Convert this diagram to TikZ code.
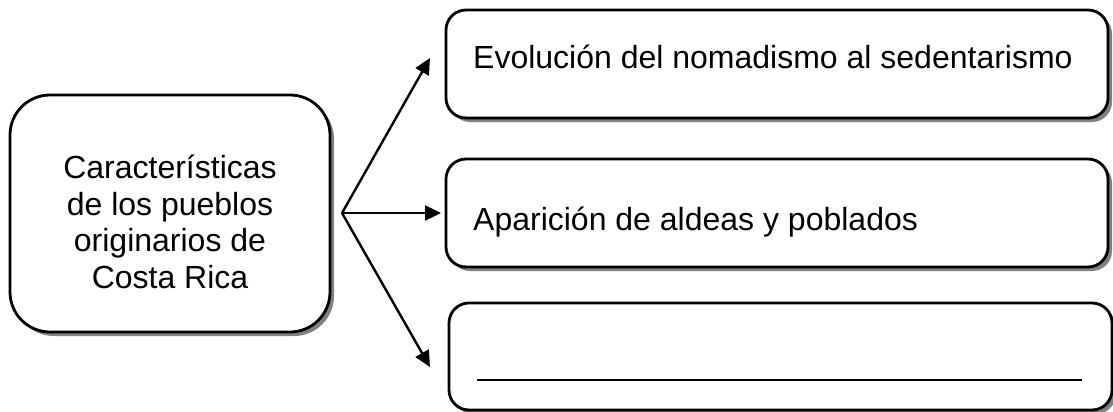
\documentclass[tikz,border=0pt]{standalone}
\usepackage{fontspec}
\setmainfont{Liberation Sans}
\usetikzlibrary{arrows.meta,shadows}
\tikzset{
  boxbase/.style={draw=black, line width=2.8pt, fill=white, inner sep=0pt,
    drop shadow={shadow xshift=4pt, shadow yshift=-4pt, fill=black!50, opacity=1}},
  mainbox/.style={boxbase, rounded corners=40pt},
  sidebox/.style={boxbase, rounded corners=20pt},
  lbl/.style={font=\fontsize{32}{36.7}\selectfont, inner sep=0pt},
  conn/.style={line width=2.4pt, -{Triangle[length=16pt,width=15pt]}},
}
\begin{document}
\begin{tikzpicture}[x=1pt,y=-1pt]
\useasboundingbox (0,0) rectangle (1113,412);
% main box
\node[mainbox, minimum width=320pt, minimum height=237pt] (main) at (170,213.5) {};
\node[lbl, align=center] (maintext) at (170,222) {Características\\de los pueblos\\originarios de\\Costa Rica};
% side boxes
\node[sidebox, minimum width=662pt, minimum height=108pt] (b1) at (777,64) {};
\node[sidebox, minimum width=662pt, minimum height=108pt] (b2) at (777,213) {};
\node[sidebox, minimum width=663pt, minimum height=107pt] (b3) at (780.5,356.5) {};
\node[lbl, anchor=base west] (t1) at (473,68) {Evolución del nomadismo al sedentarismo};
\node[lbl, anchor=base west] (t2) at (473,230) {Aparición de aldeas y poblados};
\coordinate (l1) at (477,380);
\coordinate (l2) at (1082,380);
\draw[line width=1.8pt] (l1) -- (l2);
% connectors
\coordinate (o) at (342,213);
\coordinate (a1) at (430,58);
\coordinate (a2) at (441,213);
\coordinate (a3) at (430,367);
\draw[conn] (o) -- (a1);
\draw[conn] (o) -- (a2);
\draw[conn] (o) -- (a3);
\end{tikzpicture}
\end{document}
